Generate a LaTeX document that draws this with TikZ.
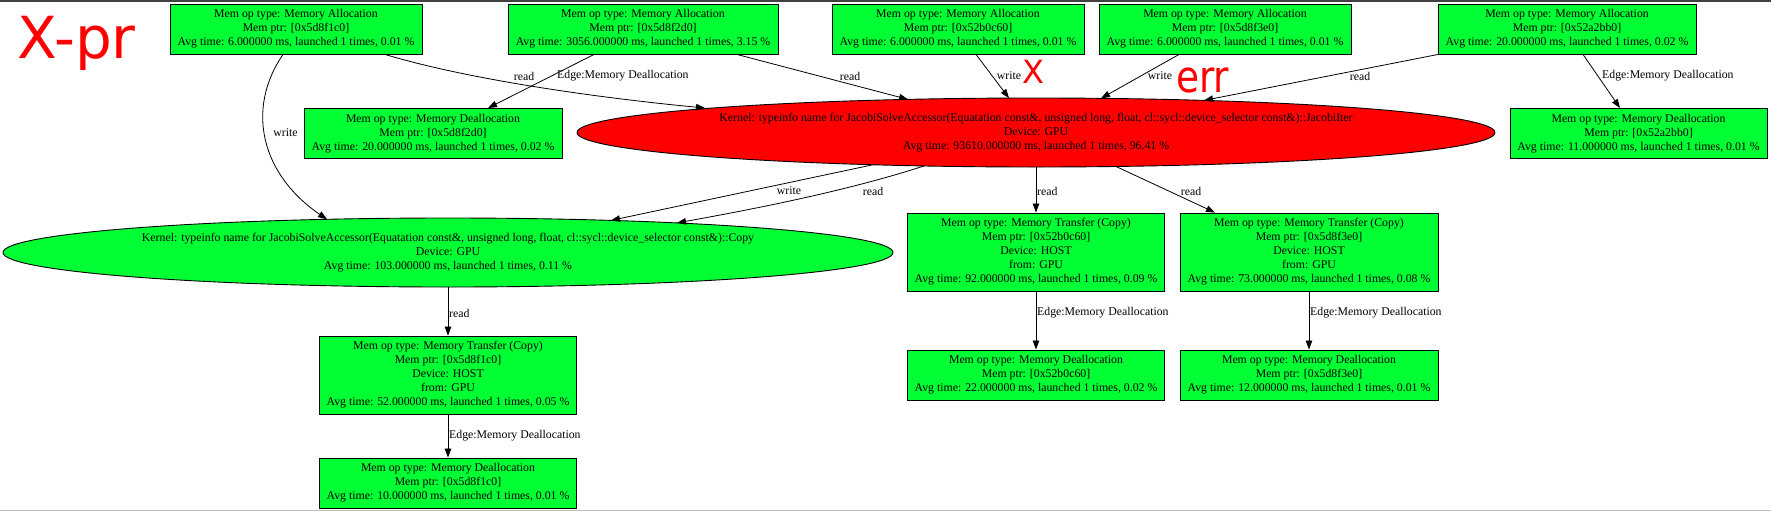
\documentclass[tikz,border=0pt]{standalone}
\usepackage{fontspec}
\setmainfont{Liberation Serif}
\newfontfamily\handfont{DejaVu Sans}
\usetikzlibrary{shapes.geometric,arrows.meta,calc}
\definecolor{boxgreen}{RGB}{0,255,51}
\definecolor{kred}{RGB}{255,0,0}
\newcommand\gvfont{\fontsize{11.8}{14}\selectfont}
\begin{document}
\begin{tikzpicture}[x=1pt,y=-1pt,
  memop/.style={rectangle, draw=black, line width=0.9pt, fill=boxgreen, inner sep=0pt,
                align=center, font=\gvfont, minimum height=50pt},
  memfive/.style={memop, minimum height=78pt},
  kernel/.style={ellipse, draw=black, line width=0.9pt, inner sep=0pt, align=center,
                 font=\gvfont, minimum height=69pt},
  conn/.style={draw=black, line width=0.8pt, -{Triangle[length=9pt,width=6.5pt]}},
  elab/.style={font=\gvfont, inner sep=0pt},
  hand/.style={text=kred, inner sep=0pt}]
\useasboundingbox (0,0) rectangle (1771,512);
\draw[line width=1.8pt, black!75] (0,0.9) -- (1771,0.9);
\draw[line width=1.3pt, black!25] (0,510.8) -- (1771,510.8);

% top row
\node[memop, minimum width=252pt] (A1) at (296,29) {Mem op type: Memory Allocation\\Mem ptr: [0x5d8f1c0]\\Avg time: 6.000000 ms, launched 1 times, 0.01 \%};
\node[memop, minimum width=270pt] (A2) at (643,29) {Mem op type: Memory Allocation\\Mem ptr: [0x5d8f2d0]\\Avg time: 3056.000000 ms, launched 1 times, 3.15 \%};
\node[memop, minimum width=252pt] (A3) at (958,29) {Mem op type: Memory Allocation\\Mem ptr: [0x52b0c60]\\Avg time: 6.000000 ms, launched 1 times, 0.01 \%};
\node[memop, minimum width=252pt] (A4) at (1225,29) {Mem op type: Memory Allocation\\Mem ptr: [0x5d8f3e0]\\Avg time: 6.000000 ms, launched 1 times, 0.01 \%};
\node[memop, minimum width=258pt] (A5) at (1567,29) {Mem op type: Memory Allocation\\Mem ptr: [0x52a2bb0]\\Avg time: 20.000000 ms, launched 1 times, 0.02 \%};

% second row
\node[memop, minimum width=258pt] (D2) at (433,133.5) {Mem op type: Memory Deallocation\\Mem ptr: [0x5d8f2d0]\\Avg time: 20.000000 ms, launched 1 times, 0.02 \%};
\node[memop, minimum width=257pt] (D5) at (1638.5,133.5) {Mem op type: Memory Deallocation\\Mem ptr: [0x52a2bb0]\\Avg time: 11.000000 ms, launched 1 times, 0.01 \%};
\node[kernel, fill=kred, minimum width=918pt] (K) at (1036,132.5) {Kernel: typeinfo name for JacobiSolveAccessor(Equatation const\&, unsigned long, float, cl::sycl::device\_selector const\&)::JacobiIter\\Device: GPU\\Avg time: 93610.000000 ms, launched 1 times, 96.41 \%};

% third row
\node[kernel, fill=boxgreen, minimum width=890pt] (C) at (448,252.5) {Kernel: typeinfo name for JacobiSolveAccessor(Equatation const\&, unsigned long, float, cl::sycl::device\_selector const\&)::Copy\\Device: GPU\\Avg time: 103.000000 ms, launched 1 times, 0.11 \%};
\node[memfive, minimum width=257pt] (T1) at (1036,252) {Mem op type: Memory Transfer (Copy)\\Mem ptr: [0x52b0c60]\\Device: HOST\\from: GPU\\Avg time: 92.000000 ms, launched 1 times, 0.09 \%};
\node[memfive, minimum width=258pt] (T2) at (1309,252) {Mem op type: Memory Transfer (Copy)\\Mem ptr: [0x5d8f3e0]\\Device: HOST\\from: GPU\\Avg time: 73.000000 ms, launched 1 times, 0.08 \%};

% fourth row
\node[memfive, minimum width=257pt] (T0) at (448,375) {Mem op type: Memory Transfer (Copy)\\Mem ptr: [0x5d8f1c0]\\Device: HOST\\from: GPU\\Avg time: 52.000000 ms, launched 1 times, 0.05 \%};
\node[memop, minimum width=257pt] (D3) at (1036,375) {Mem op type: Memory Deallocation\\Mem ptr: [0x52b0c60]\\Avg time: 22.000000 ms, launched 1 times, 0.02 \%};
\node[memop, minimum width=258pt] (D4) at (1309,375) {Mem op type: Memory Deallocation\\Mem ptr: [0x5d8f3e0]\\Avg time: 12.000000 ms, launched 1 times, 0.01 \%};
\node[memop, minimum width=257pt] (D1) at (448,483) {Mem op type: Memory Deallocation\\Mem ptr: [0x5d8f1c0]\\Avg time: 10.000000 ms, launched 1 times, 0.01 \%};

% connectors
\draw[conn] ($(A1.south)+(-13,0)$) .. controls (245,110) and (262,175) .. ($(C)+(-121,-33.2)$);
\node[elab] (l1) at (285.5,133) {write};
\draw[conn] ($(A1.south)+(89,0)$) .. controls (470,80) and (600,98) .. ($(K)+(-331,-24.5)$);
\node[elab] (l2) at (524,76) {read};
\draw[conn] ($(A2.south)+(-49,0)$) -- ($(D2.north)+(55,0)$);
\node[elab, anchor=west] (l3) at (557,76) {Edge:Memory Deallocation};
\draw[conn] ($(A2.south)+(94,0)$) -- ($(K)+(-128,-33.1)$);
\node[elab] (l4) at (850,76) {read};
\draw[conn] ($(A3.south)+(18,0)$) -- ($(K)+(-27,-34.4)$);
\node[elab] (l5) at (1009,76) {write};
\draw[conn] ($(A4.south)+(-46,0)$) -- ($(K)+(65,-34.15)$);
\node[elab] (l6) at (1160,76) {write};
\draw[conn] ($(A5.south)+(-129,0)$) -- ($(K)+(168,-32.1)$);
\node[elab] (l7) at (1360,76) {read};
\draw[conn] ($(A5.south)+(16,0)$) -- ($(D5.north)+(-18.5,0)$);
\node[elab, anchor=west] (l8) at (1602,76) {Edge:Memory Deallocation};
\draw[conn] ($(K)+(-163,32.25)$) -- ($(C)+(163,-32.1)$);
\node[elab] (l9) at (789,191) {write};
\draw[conn] ($(K)+(-112,33.45)$) .. controls (850,190) and (760,208) .. ($(C)+(229,-29.6)$);
\node[elab] (l10) at (873,191) {read};
\draw[conn] (K.south) -- (T1.north);
\node[elab, anchor=west] (l11) at (1037,191) {read};
\draw[conn] ($(K)+(80,33.97)$) -- ($(T2.north)+(-94,0)$);
\node[elab] (l12) at (1191,191) {read};
\draw[conn] (T1.south) -- (D3.north);
\node[elab, anchor=west] (l13) at (1037,313) {Edge:Memory Deallocation};
\draw[conn] (T2.south) -- (D4.north);
\node[elab, anchor=west] (l14) at (1310,313) {Edge:Memory Deallocation};
\draw[conn] (C.south) -- (T0.north);
\node[elab, anchor=west] (l15) at (449,313) {read};
\draw[conn] (T0.south) -- (D1.north);
\node[elab, anchor=west] (l16) at (449,436) {Edge:Memory Deallocation};

% handwritten red annotations
\node[hand, anchor=base west, font=\handfont\fontsize{58}{58}\selectfont] (xpr) at (17,58) {X-pr};
\node[hand, font=\handfont\fontsize{32}{32}\selectfont] (xmark) at (1033,72) {X};
\node[hand, anchor=base west, font=\handfont\fontsize{44}{44}\selectfont] (err) at (1176,92) {\scalebox{0.85}[1]{err}};
\end{tikzpicture}
\end{document}
